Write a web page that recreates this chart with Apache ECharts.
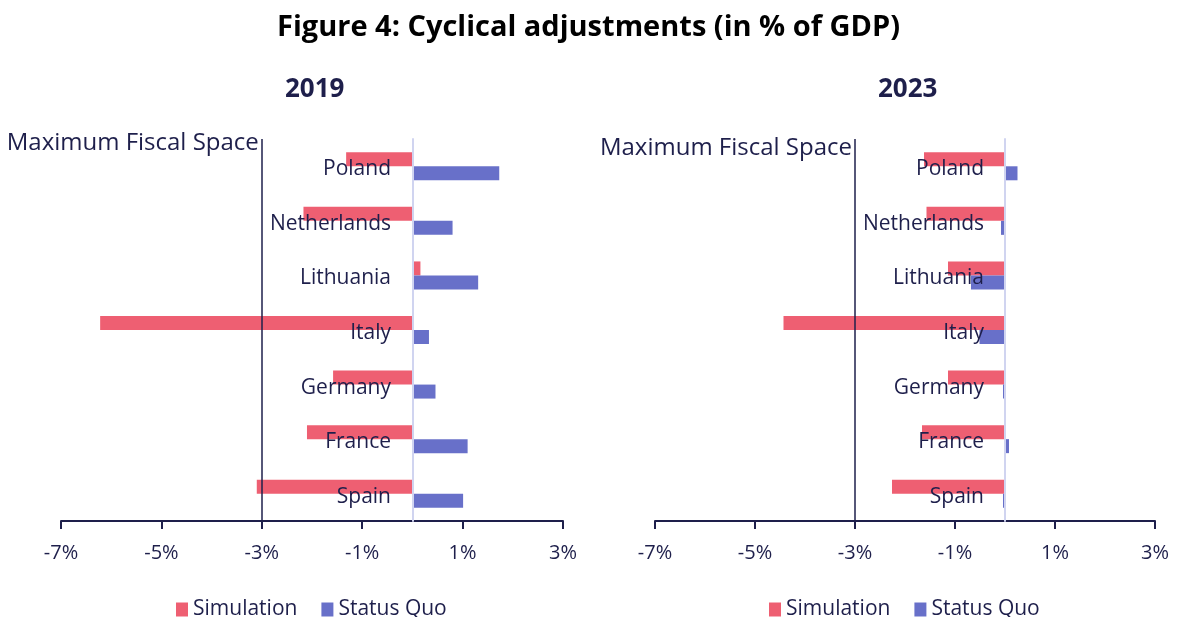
<!DOCTYPE html>
<html>
<head>
<meta charset="utf-8">
<script src="https://cdn.jsdelivr.net/npm/echarts@6/dist/echarts.min.js"></script>
<style>
  html, body { margin: 0; padding: 0; background: #fff; }
  #chart { width: 1177px; height: 617px; }
</style>
</head>
<body>
<div id="chart"></div>
<script>
// categories bottom -> top (category axis starts at the bottom)
const countries = ["Spain", "France", "Germany", "Italy", "Lithuania", "Netherlands", "Poland"];
const xTicks = [-7, -5, -3, -1, 1, 3];
const maxFiscalSpace = -3;

// 2019
const sim2019 = [-3.1, -2.1, -1.58, -6.22, 0.16, -2.17, -1.32];
const sq2019 = [1.01, 1.1, 0.46, 0.33, 1.31, 0.8, 1.73];
// 2023
const sim2023 = [-2.26, -1.66, -1.14, -4.43, -1.14, -1.57, -1.62];
const sq2023 = [-0.04, 0.08, -0.04, -0.51, -0.68, -0.08, 0.25];

const RED = "#ee5f72";
const BLUE = "#6870c9";
const NAVY = "#1e1f4b";
const FONT = "Open Sans";

const chart = echarts.init(document.getElementById("chart"));

function xAxisFor(idx) {
  return {
    type: "value",
    gridIndex: idx,
    min: -7,
    max: 3,
    axisLine: { show: true, onZero: false, lineStyle: { color: NAVY, width: 2 } },
    axisTick: { show: true, customValues: xTicks, length: 8, lineStyle: { color: NAVY, width: 2 } },
    axisLabel: {
      customValues: xTicks,
      formatter: (v) => v + "%",
      color: NAVY,
      fontSize: 20,
      fontFamily: FONT,
      margin: 22
    },
    splitLine: { show: false }
  };
}

// labels sit just left of the zero line (on top of the bars), not at the grid edge
function yAxisFor(idx, labelMargin) {
  return {
    type: "category",
    gridIndex: idx,
    data: countries,
    z: 5,
    axisLine: { show: true, onZero: true, lineStyle: { color: "#d0d4f0", width: 2 } },
    axisTick: { show: false },
    axisLabel: {
      color: NAVY,
      fontSize: 21,
      fontFamily: FONT,
      margin: labelMargin,
      verticalAlign: "top",
      lineHeight: 6
    }
  };
}

function barSeries(name, data, color, idx, labelDist) {
  const s = {
    name: name,
    type: "bar",
    xAxisIndex: idx,
    yAxisIndex: idx,
    data: data,
    barWidth: 14,
    barGap: "0%",
    itemStyle: { color: color },
    z: 2
  };
  if (labelDist != null) {
    s.markLine = {
      silent: true,
      symbol: "none",
      lineStyle: { color: NAVY, width: 1.5, type: "solid" },
      label: {
        show: true,
        position: "end",
        align: "right",
        verticalAlign: "bottom",
        distance: labelDist,
        padding: [0, 3, 0, 0],
        formatter: "Maximum Fiscal Space",
        color: NAVY,
        fontSize: 24,
        fontFamily: FONT
      },
      data: [{ xAxis: maxFiscalSpace }]
    };
  }
  return s;
}

function legendFor(left) {
  return {
    data: ["Simulation", "Status Quo"],
    left: left,
    top: 594,
    icon: "rect",
    itemWidth: 12,
    itemHeight: 14,
    itemGap: 24,
    textStyle: { color: NAVY, fontSize: 21, fontFamily: FONT }
  };
}

chart.setOption({
  animation: false,
  title: [
    {
      text: "Figure 4: Cyclical adjustments (in % of GDP)",
      left: "center",
      top: 8,
      textStyle: { color: "#000", fontSize: 29, fontWeight: "bold", fontFamily: FONT }
    },
    {
      text: "2019",
      left: 280,
      top: 72,
      textStyle: { color: NAVY, fontSize: 26, fontWeight: "bold", fontFamily: FONT }
    },
    {
      text: "2023",
      left: 873,
      top: 72,
      textStyle: { color: NAVY, fontSize: 26, fontWeight: "bold", fontFamily: FONT }
    }
  ],
  legend: [legendFor(171), legendFor(764)],
  grid: [
    { left: 61, right: 614, top: 139, bottom: 96, containLabel: false, outerBoundsMode: "none" },
    { left: 655, right: 22, top: 139, bottom: 96, containLabel: false, outerBoundsMode: "none" }
  ],
  xAxis: [xAxisFor(0), xAxisFor(1)],
  yAxis: [yAxisFor(0, -330), yAxisFor(1, -329)],
  series: [
    barSeries("Simulation", sim2019, RED, 0, -16),
    barSeries("Status Quo", sq2019, BLUE, 0, null),
    barSeries("Simulation", sim2023, RED, 1, -21),
    barSeries("Status Quo", sq2023, BLUE, 1, null)
  ]
});
</script>
</body>
</html>
